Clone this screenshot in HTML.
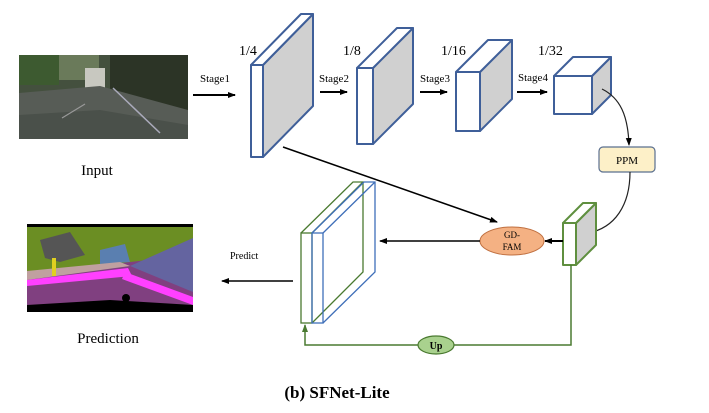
<!DOCTYPE html>
<html><head><meta charset="utf-8"><style>
html,body{margin:0;padding:0;background:#fff;}
svg{display:block;font-family:"Liberation Serif",serif;}
</style></head><body>
<svg width="709" height="413" viewBox="0 0 709 413" xmlns="http://www.w3.org/2000/svg">
<defs>
<marker id="a" markerWidth="8" markerHeight="8" refX="7" refY="4" orient="auto" markerUnits="userSpaceOnUse"><path d="M0,1 L8,4 L0,7 z" fill="#000"/></marker>
<marker id="g" markerWidth="8" markerHeight="8" refX="7" refY="4" orient="auto" markerUnits="userSpaceOnUse"><path d="M0,1 L8,4 L0,7 z" fill="#4a7a30"/></marker>
</defs>
<!-- input image -->
<rect x="19" y="55" width="169" height="84" fill="#44503e"/>
<rect x="19" y="55" width="40" height="30" fill="#3d5a30"/>
<rect x="59" y="55" width="40" height="25" fill="#6a7a5a"/>
<rect x="85" y="68" width="20" height="20" fill="#c8c8c0"/>
<rect x="110" y="55" width="78" height="60" fill="#2c3426"/>
<polygon points="19,139 19,93 100,86 188,110 188,139" fill="#575c56"/>
<polygon points="19,139 19,115 100,110 188,125 188,139" fill="#4a504a"/>
<line x1="113" y1="88" x2="160" y2="133" stroke="#aab" stroke-width="1.5"/>
<line x1="85" y1="104" x2="62" y2="118" stroke="#999" stroke-width="1.2"/>
<text x="97" y="175" font-size="15" text-anchor="middle">Input</text>
<!-- stage arrows -->
<g stroke="#000" stroke-width="2" fill="none" marker-end="url(#a)">
<line x1="193" y1="95" x2="235" y2="95"/>
<line x1="320" y1="92" x2="347" y2="92"/>
<line x1="420" y1="92" x2="447" y2="92"/>
<line x1="517" y1="92" x2="547" y2="92"/>
</g>
<g font-size="11">
<text x="200" y="82">Stage1</text>
<text x="319" y="82">Stage2</text>
<text x="420" y="82">Stage3</text>
<text x="518" y="81">Stage4</text>
</g>
<g font-size="14">
<text x="239" y="55">1/4</text>
<text x="343" y="55">1/8</text>
<text x="441" y="55">1/16</text>
<text x="538" y="55">1/32</text>
</g>
<!-- blocks -->
<g stroke="#3f5f99" stroke-width="2" stroke-linejoin="round">
<polygon points="263,65 313,14 313,106 263,157" fill="#d0d0d0"/>
<polygon points="251,65 301,14 313,14 263,65" fill="#fff"/>
<rect x="251" y="65" width="12" height="92" fill="#fff"/>
<polygon points="373,68 413,28 413,104 373,144" fill="#d0d0d0"/>
<polygon points="357,68 397,28 413,28 373,68" fill="#fff"/>
<rect x="357" y="68" width="16" height="76" fill="#fff"/>
<polygon points="480,72 512,40 512,99 480,131" fill="#d0d0d0"/>
<polygon points="456,72 488,40 512,40 480,72" fill="#fff"/>
<rect x="456" y="72" width="24" height="59" fill="#fff"/>
<polygon points="592,76 611,57 611,95 592,114" fill="#d0d0d0"/>
<polygon points="554,76 573,57 611,57 592,76" fill="#fff"/>
<rect x="554" y="76" width="38" height="38" fill="#fff"/>
</g>
<!-- curves to PPM -->
<path d="M602,89 C620,98 628,115 629,145" stroke="#222" stroke-width="1.2" fill="none" marker-end="url(#a)"/>
<rect x="599" y="147" width="56" height="25" rx="4" fill="#fdf0c8" stroke="#5a6f8f" stroke-width="1.2"/>
<text x="627" y="164" font-size="11" text-anchor="middle">PPM</text>
<path d="M630,172 C630,205 615,228 588,233" stroke="#222" stroke-width="1.2" fill="none" marker-end="url(#a)"/>
<!-- small green block -->
<g stroke="#5f8f3f" stroke-width="2" stroke-linejoin="round">
<polygon points="576,223 596,203 596,245 576,265" fill="#d0d0d0"/>
<polygon points="563,223 583,203 596,203 576,223" fill="#fff"/>
<rect x="563" y="223" width="13" height="42" fill="#fff"/>
</g>
<!-- diagonal -->
<line x1="283" y1="147" x2="497" y2="222" stroke="#000" stroke-width="1.5" marker-end="url(#a)"/>
<!-- GD-FAM -->
<line x1="563" y1="241" x2="545" y2="241" stroke="#000" stroke-width="2" marker-end="url(#a)"/>
<ellipse cx="512" cy="241" rx="32" ry="14" fill="#f4b183" stroke="#c07040" stroke-width="1"/>
<text x="512" y="238" font-size="9" text-anchor="middle">GD-</text>
<text x="512" y="250" font-size="9" text-anchor="middle">FAM</text>
<line x1="480" y1="241" x2="380" y2="241" stroke="#000" stroke-width="1.5" marker-end="url(#a)"/>
<!-- big double block -->
<g fill="none" stroke-width="1.3">
<g stroke="#4a7a30">
<rect x="301" y="233" width="11" height="90"/>
<polyline points="301,233 353,182 363,182 363,272 312,323"/>
<line x1="312" y1="233" x2="363" y2="182"/>
</g>
<g stroke="#3f6fb9">
<rect x="312" y="233" width="11" height="90"/>
<polyline points="312,233 364,182 375,182 375,272 323,323"/>
<line x1="323" y1="233" x2="375" y2="182"/>
</g>
</g>
<!-- up path -->
<polyline points="571,265 571,345 305,345 305,325" fill="none" stroke="#4a7a30" stroke-width="1.5" marker-end="url(#g)"/>
<ellipse cx="436" cy="345" rx="18" ry="9" fill="#a9d18e" stroke="#4a7a30" stroke-width="1.2"/>
<text x="436" y="349" font-size="10" font-weight="bold" text-anchor="middle">Up</text>
<!-- predict -->
<text x="230" y="259" font-size="10">Predict</text>
<line x1="293" y1="281" x2="222" y2="281" stroke="#000" stroke-width="1.5" marker-end="url(#a)"/>
<!-- prediction image -->
<rect x="27" y="224" width="166" height="88" fill="#6b8e23"/>
<polygon points="40,240 70,232 85,255 60,262 45,258" fill="#555"/>
<polygon points="100,250 125,244 130,262 100,264" fill="#5a7fb0"/>
<polygon points="27,277 130,262 193,255 193,312 27,312" fill="#804080"/>
<polygon points="27,271 120,262 130,266 27,280" fill="#c0a0a0"/>
<polygon points="130,266 193,238 193,292" fill="#6464a0"/>
<polygon points="27,280 128,268 132,276 27,286" fill="#ff40ff"/>
<polygon points="125,272 193,297 193,305 122,279" fill="#ff40ff"/>
<polygon points="27,312 27,305 110,300 193,305 193,312" fill="#000"/>
<circle cx="126" cy="298" r="4" fill="#000"/>
<rect x="27" y="224" width="166" height="3" fill="#000"/>
<rect x="52" y="258" width="4" height="18" fill="#e0d020"/>
<text x="108" y="343" font-size="15" text-anchor="middle">Prediction</text>
<text x="337" y="398" font-size="17" font-weight="bold" text-anchor="middle">(b) SFNet-Lite</text>
</svg>
</body></html>
